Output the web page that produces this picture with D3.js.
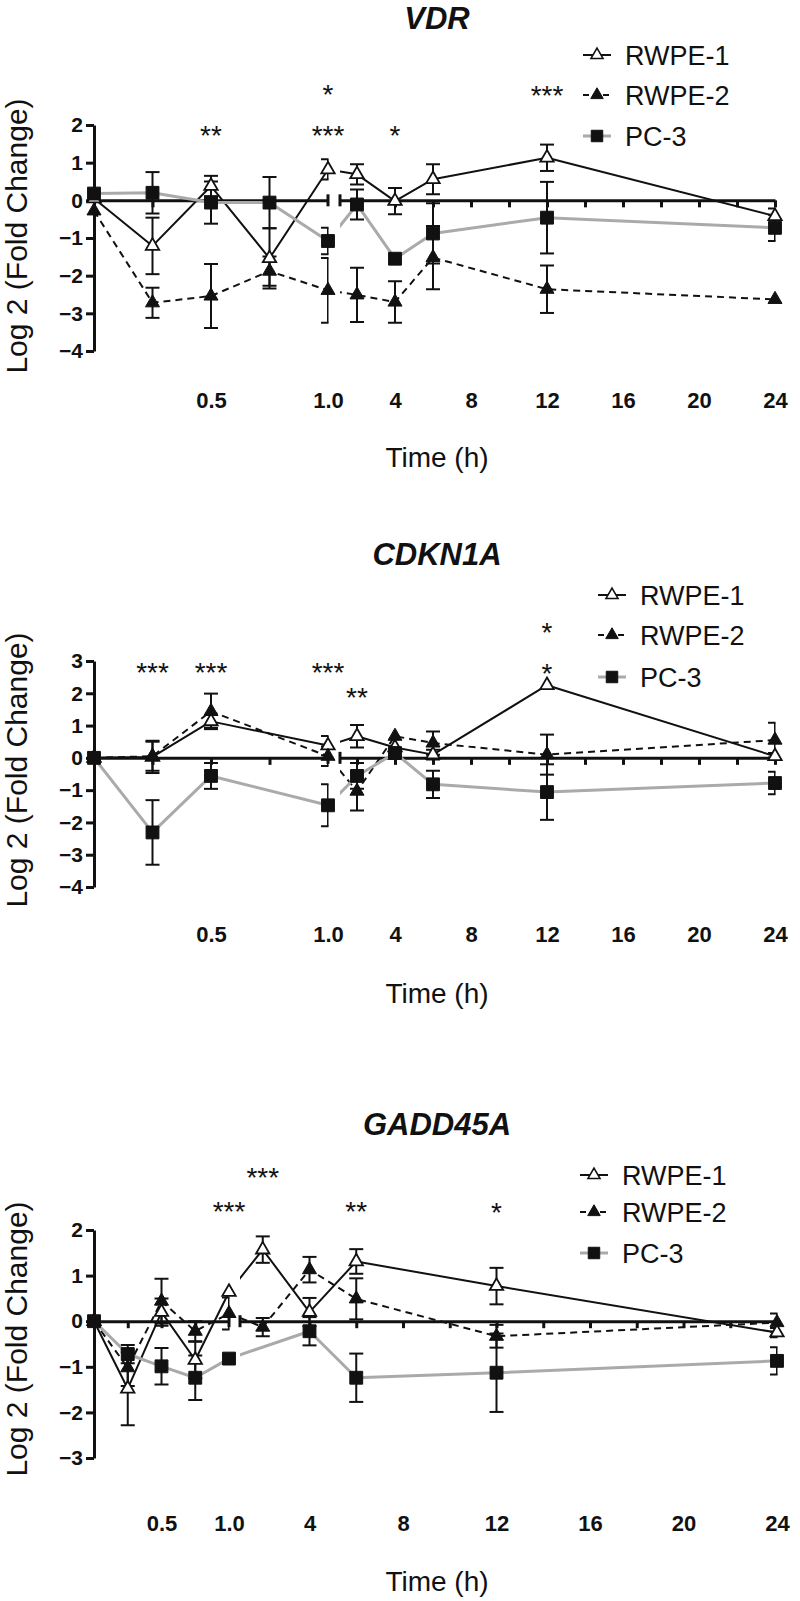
<!DOCTYPE html>
<html><head><meta charset="utf-8">
<script src="https://cdn.jsdelivr.net/npm/d3@7"></script>
<style>
body{margin:0;background:#fff}
svg{display:block}
text{font-family:"Liberation Sans",Arial,Helvetica,sans-serif;fill:#111}
</style>
</head><body>
<svg id="chart" width="800" height="1601"></svg>
<script>
// ---------------- DATA ----------------
const seriesNames = ["RWPE-1", "RWPE-2", "PC-3"];

// VDR
const vdrTimes      = [0, 0.25, 0.5, 0.75, 1.0, 2, 4, 6, 12, 24];
const vdrRWPE1      = [0.05, -1.21, 0.38, -1.54, 0.82, 0.69, -0.02, 0.56, 1.13, -0.42];
const vdrRWPE1Err   = [0, 0.75, 0.27, 0.8, 0.27, 0.27, 0.35, 0.4, 0.35, 0.2];
const vdrRWPE2      = [-0.28, -2.72, -2.54, -1.88, -2.39, -2.51, -2.7, -1.52, -2.36, -2.63];
const vdrRWPE2Err   = [0, 0.4, 0.85, 0.39, 0.86, 0.72, 0.55, 0.84, 0.63, 0];
const vdrPC3Times   = [0, 0.25, 0.5, 0.75, 1.0, 2, 4, 6, 12, 24];
const vdrPC3        = [0.18, 0.2, -0.06, -0.06, -1.08, -0.11, -1.55, -0.88, -0.46, -0.73];
const vdrPC3Err     = [0, 0.55, 0.56, 0.68, 0.35, 0.4, 0, 0.8, 0.95, 0.35];
const vdrStars      = [{t:0.5, s:"**", v:1.9}, {t:1.0, s:"***", v:1.9}, {t:1.0, s:"*", v:2.98},
                       {t:4, s:"*", v:1.9}, {t:12, s:"***", v:2.95}];

// CDKN1A
const cdkTimes      = [0, 0.25, 0.5, 1.0, 2, 4, 6, 12, 24];
const cdkRWPE1      = [0, 0.03, 1.13, 0.38, 0.67, 0.32, 0.1, 2.25, 0.05];
const cdkRWPE1Err   = [0, 0.5, 0.2, 0.3, 0.35, 0, 0.15, 0, 0.1];
const cdkRWPE2      = [0, 0.05, 1.44, 0.05, -1.03, 0.67, 0.46, 0.1, 0.55];
const cdkRWPE2Err   = [0, 0.45, 0.55, 0.3, 0.6, 0, 0.36, 0.62, 0.54];
const cdkPC3Times   = [0, 0.25, 0.5, 1.0, 2, 4, 6, 12, 24];
const cdkPC3        = [0, -2.31, -0.56, -1.47, -0.56, 0.15, -0.82, -1.06, -0.78];
const cdkPC3Err     = [0, 1.0, 0.4, 0.65, 0.4, 0, 0.42, 0.86, 0.35];
const cdkStars      = [{t:0.25, s:"***", v:2.84}, {t:0.5, s:"***", v:2.84}, {t:1.0, s:"***", v:2.84},
                       {t:2, s:"**", v:2.07}, {t:12, s:"*", v:4.08}, {t:12, s:"*", v:2.81}];

// GADD45A
const gadTimes      = [0, 0.25, 0.5, 0.75, 1.0, 2, 4, 6, 12, 24];
const gadRWPE1      = [0, -1.48, 0.2, -0.85, 0.64, 1.57, 0.2, 1.31, 0.77, -0.25];
const gadRWPE1Err   = [0, 0.8, 0.3, 0.4, 0, 0.29, 0.31, 0.27, 0.4, 0.1];
const gadRWPE2      = [0, -1.02, 0.44, -0.22, 0.17, -0.13, 1.13, 0.49, -0.33, -0.03];
const gadRWPE2Err   = [0, 0.4, 0.49, 0.22, 0.35, 0.2, 0.28, 0.45, 0.25, 0.2];
const gadPC3Times   = [0, 0.25, 0.5, 0.75, 1.0, 4, 6, 12, 24];
const gadPC3        = [0, -0.72, -0.99, -1.24, -0.82, -0.22, -1.24, -1.13, -0.87];
const gadPC3Err     = [0, 0.2, 0.4, 0.49, 0, 0.31, 0.53, 0.86, 0.3];
const gadStars      = [{t:1.0, s:"***", v:2.55}, {t:2, s:"***", v:3.3}, {t:6, s:"**", v:2.55},
                       {t:12, s:"*", v:2.53}];

// axis tick values / labels
const leftTicks   = [0.25, 0.5, 0.75];
const leftLabels  = [0.5, 1.0];
const rightTicks  = [2, 4, 6, 8, 10, 12, 14, 16, 18, 20, 22, 24];
const rightLabels = [4, 8, 12, 16, 20, 24];

// ---------------- LAYOUT ----------------
const panels = [
  {title:"VDR", yDomain:[-4,2], yRange:[351,125], left:[94,328], rightPx:[340,775], rMap:[395,775],
   labelBase:408, timeBase:467, titleBase:29, ylabCenter:236,
   legend:{lx:583, tx:625, rows:[55,95,136]},
   data:[[vdrTimes,vdrRWPE1,vdrRWPE1Err],[vdrTimes,vdrRWPE2,vdrRWPE2Err],[vdrPC3Times,vdrPC3,vdrPC3Err]],
   stars:vdrStars},
  {title:"CDKN1A", yDomain:[-4,3], yRange:[887,661], left:[94,328], rightPx:[340,775], rMap:[395,775],
   labelBase:942, timeBase:1003, titleBase:565, ylabCenter:770,
   legend:{lx:598, tx:640, rows:[595,635,677]},
   data:[[cdkTimes,cdkRWPE1,cdkRWPE1Err],[cdkTimes,cdkRWPE2,cdkRWPE2Err],[cdkPC3Times,cdkPC3,cdkPC3Err]],
   stars:cdkStars},
  {title:"GADD45A", yDomain:[-3,2], yRange:[1458,1230], left:[94,229], rightPx:[240,777], rMap:[309.5,777],
   labelBase:1531, timeBase:1591, titleBase:1135, ylabCenter:1339,
   legend:{lx:580, tx:622, rows:[1175,1212,1253]},
   data:[[gadTimes,gadRWPE1,gadRWPE1Err],[gadTimes,gadRWPE2,gadRWPE2Err],[gadPC3Times,gadPC3,gadPC3Err]],
   stars:gadStars}
];

const styles = [
  {stroke:"#111", width:2, dash:null, sym:d3.symbolTriangle, size:78, fill:"#fff", mstroke:"#111"},
  {stroke:"#111", width:2, dash:"7,5", sym:d3.symbolTriangle, size:85, fill:"#111", mstroke:"#111"},
  {stroke:"#aaaaaa", width:3, dash:null, sym:d3.symbolSquare, size:165, fill:"#111", mstroke:"#111"}
];

const svg = d3.select("#chart");

panels.forEach((p, pi) => {
  const g = svg.append("g");
  const y = d3.scaleLinear().domain(p.yDomain).range(p.yRange);
  const xl = d3.scaleLinear().domain([0, 1]).range(p.left);
  const xr = d3.scaleLinear().domain([4, 24]).range(p.rMap);
  const rStart = xr.invert(p.rightPx[0]);
  const xs = t => t <= 1 ? xl(t) : xr(t);
  const y0 = y(0);

  // clip (two segments)
  const cid = "clip" + pi;
  const cp = svg.append("defs").append("clipPath").attr("id", cid);
  cp.append("rect").attr("x", p.left[0]).attr("y", 0).attr("width", p.left[1] - p.left[0] + 0.5).attr("height", 1601);
  cp.append("rect").attr("x", p.rightPx[0]).attr("y", 0).attr("width", p.rightPx[1] - p.rightPx[0] + 0.5).attr("height", 1601);

  // Title
  g.append("text").attr("x", 437).attr("y", p.titleBase).attr("text-anchor", "middle")
    .attr("font-size", 31).attr("font-weight", "bold").attr("font-style", "italic").text(p.title);

  // Y axis
  const ya = d3.axisLeft(y).tickValues(d3.range(p.yDomain[0], p.yDomain[1] + 1)).tickSize(8).tickSizeOuter(0)
    .tickPadding(3).tickFormat(d3.format("d"));
  const yg = g.append("g").attr("transform", `translate(${p.left[0]},0)`).call(ya);
  yg.selectAll("path,line").attr("stroke", "#111").attr("stroke-width", 3);
  yg.selectAll("text").attr("font-size", 21).attr("font-weight", "bold").attr("fill", "#111")
    .style("font-family", '"Liberation Sans",Arial,sans-serif');

  // Y label
  g.append("text").attr("transform", `translate(27,${p.ylabCenter}) rotate(-90)`).attr("text-anchor", "middle")
    .attr("font-size", 30).text("Log 2 (Fold Change)");

  // X axis segments at y=0
  const xlAxis = d3.axisBottom(xl).tickValues(leftTicks).tickSize(7).tickSizeOuter(0).tickFormat("");
  const xlg = g.append("g").attr("transform", `translate(0,${y0})`).call(xlAxis);
  const xrScaleSeg = xr.copy().domain([rStart, 24]).range(p.rightPx);
  const xrAxis = d3.axisBottom(xrScaleSeg).tickValues(rightTicks).tickSize(7).tickSizeOuter(0).tickFormat("");
  const xrg = g.append("g").attr("transform", `translate(0,${y0})`).call(xrAxis);
  [xlg, xrg].forEach(a => a.selectAll("path,line").attr("stroke", "#111").attr("stroke-width", 3));
  // break caps
  [p.left[1], p.rightPx[0]].forEach(bx => {
    g.append("line").attr("x1", bx).attr("x2", bx).attr("y1", y0 - 6).attr("y2", y0 + 6)
      .attr("stroke", "#111").attr("stroke-width", 3);
  });

  // X tick labels at bottom
  const xll = d3.axisBottom(xl).tickValues(leftLabels).tickSize(0).tickPadding(0).tickFormat(d3.format(".1f"));
  const xrl = d3.axisBottom(xrScaleSeg).tickValues(rightLabels).tickSize(0).tickPadding(0).tickFormat(d3.format("d"));
  [xll, xrl].forEach(ax => {
    const lg = g.append("g").attr("transform", `translate(0,${p.labelBase})`).call(ax);
    lg.select(".domain").remove();
    lg.selectAll("text").attr("dy", 0).attr("y", 0).attr("font-size", 22).attr("font-weight", "bold").attr("fill", "#111")
      .style("font-family", '"Liberation Sans",Arial,sans-serif');
  });

  // Time label
  g.append("text").attr("x", 437).attr("y", p.timeBase).attr("text-anchor", "middle")
    .attr("font-size", 28).text("Time (h)");

  // Error bars
  const eg = g.append("g").attr("clip-path", `url(#${cid})`);
  p.data.forEach((d, si) => {
    const [ts, vs, es] = d;
    ts.forEach((t, i) => {
      if (!es[i]) return;
      const x = xs(t), yt = y(vs[i] + es[i]), yb = y(vs[i] - es[i]);
      eg.append("line").attr("x1", x).attr("x2", x).attr("y1", yt).attr("y2", yb).attr("stroke", "#111").attr("stroke-width", 2);
      [yt, yb].forEach(yy => eg.append("line").attr("x1", x - 7).attr("x2", x + 7).attr("y1", yy).attr("y2", yy)
        .attr("stroke", "#111").attr("stroke-width", 2));
    });
  });

  // Lines
  const lg = g.append("g").attr("clip-path", `url(#${cid})`);
  const line = d3.line().x(d => xs(d[0])).y(d => y(d[1]));
  p.data.forEach((d, si) => {
    const st = styles[si];
    const pts = d[0].map((t, i) => [t, d[1][i]]);
    lg.append("path").attr("d", line(pts)).attr("fill", "none").attr("stroke", st.stroke)
      .attr("stroke-width", st.width).attr("stroke-dasharray", st.dash).attr("stroke-linejoin", "round");
  });

  // Markers
  p.data.forEach((d, si) => {
    const st = styles[si];
    const sym = d3.symbol().type(st.sym).size(st.size);
    d[0].forEach((t, i) => {
      g.append("path").attr("d", sym()).attr("transform", `translate(${xs(t)},${y(d[1][i])})`)
        .attr("fill", st.fill).attr("stroke", st.mstroke).attr("stroke-width", si === 0 ? 1.8 : 1);
    });
  });

  // Stars
  p.stars.forEach(s => {
    g.append("text").attr("x", xs(s.t)).attr("y", y(s.v) + 16).attr("text-anchor", "middle")
      .attr("font-size", 28).text(s.s);
  });

  // Legend
  seriesNames.forEach((name, si) => {
    const st = styles[si];
    const ry = p.legend.rows[si];
    g.append("line").attr("x1", p.legend.lx).attr("x2", p.legend.lx + 28).attr("y1", ry).attr("y2", ry)
      .attr("stroke", st.stroke).attr("stroke-width", st.width).attr("stroke-dasharray", si === 1 ? "6,4" : null);
    const sym = d3.symbol().type(st.sym).size(st.size * 0.8);
    g.append("path").attr("d", sym()).attr("transform", `translate(${p.legend.lx + 14},${ry})`)
      .attr("fill", st.fill).attr("stroke", st.mstroke).attr("stroke-width", si === 0 ? 1.6 : 1);
    g.append("text").attr("x", p.legend.tx).attr("y", ry + 9.7).attr("font-size", 27).text(name);
  });
});
</script>
</body></html>
